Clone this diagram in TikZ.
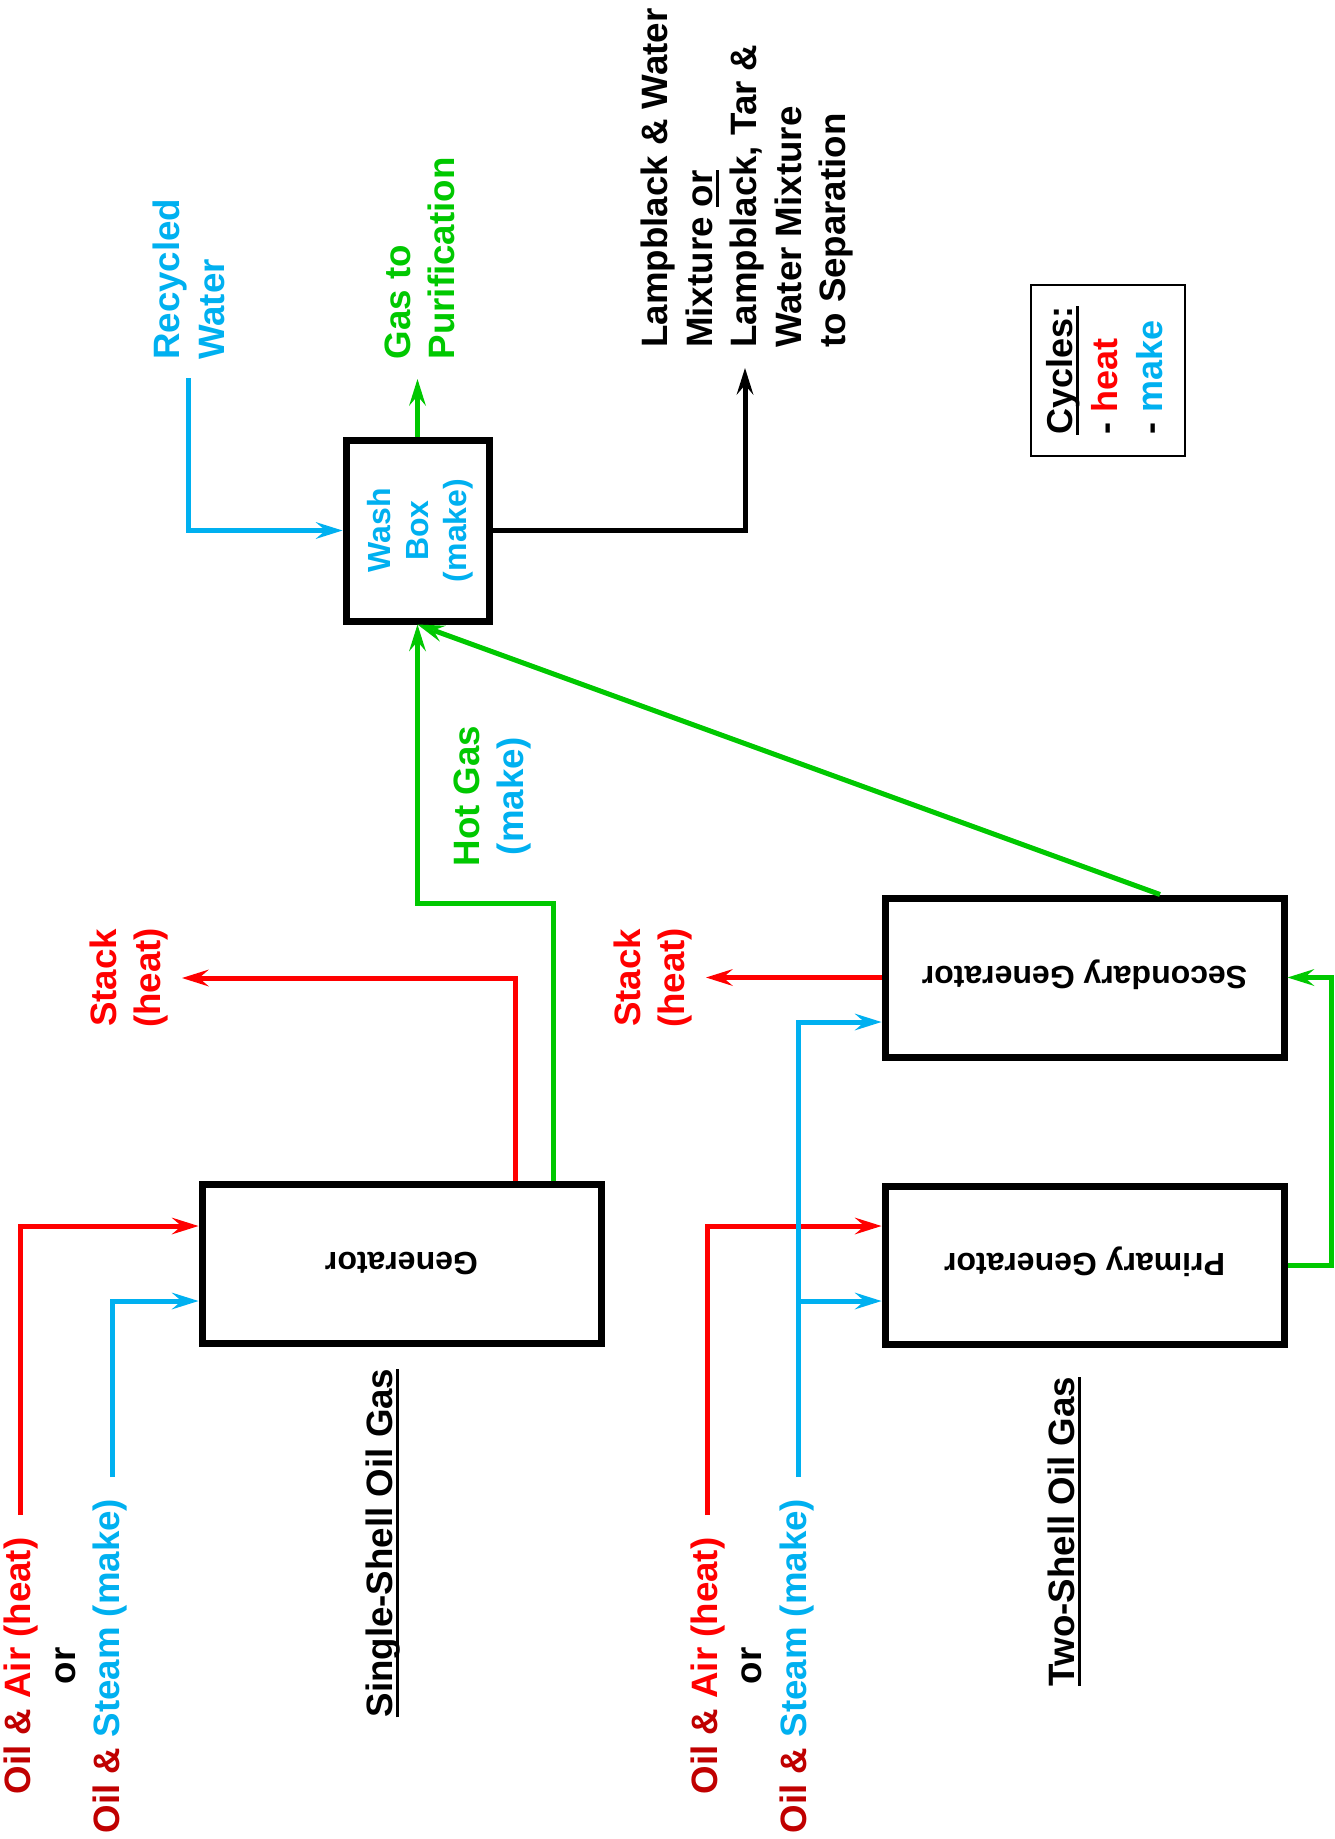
\documentclass[tikz,border=0pt]{standalone}
\usepackage{fontspec}
\setmainfont{Liberation Sans}
\usepackage{graphicx}
\usetikzlibrary{arrows.meta}
\definecolor{cred}{HTML}{FF0000}
\definecolor{cdred}{HTML}{C00000}
\definecolor{cblue}{HTML}{00B0F0}
\definecolor{cgreen}{HTML}{00C800}
\newcommand\lbfont{\fontsize{36.7pt}{44.5pt}\selectfont\bfseries}
\newcommand\bxfont{\fontsize{32pt}{38pt}\selectfont\bfseries}
\newcommand\cyfont{\fontsize{36pt}{45pt}\selectfont\bfseries}
\newcommand\ulin[1]{\setbox0\hbox{#1}\rlap{\rule[-6.5pt]{\wd0}{3pt}}#1}
\newcommand\flipped[1]{\rotatebox{180}{\raisebox{0pt}[23pt][0pt]{#1}}}
\tikzset{
  procbox/.style={draw, line width=7pt, rectangle, inner sep=0pt, font=\bxfont},
  lbl/.style={rotate=90, inner sep=0pt, font=\lbfont},
  conn/.style={line width=5pt, -{Stealth[length=27pt,width=17pt,inset=10pt,line width=0pt]}},
}
\begin{document}
\begin{tikzpicture}[x=1pt,y=-1pt]
\fill[white] (0,0) rectangle (1335,1839);
\useasboundingbox (0,0) rectangle (1335,1839);

% process boxes
\node[procbox, minimum width=399pt, minimum height=159pt] (gen) at (401.5,1263.5) {\flipped{Generator}};
\node[procbox, minimum width=399pt, minimum height=158pt] (pri) at (1084.5,1265) {\flipped{Primary Generator}};
\node[procbox, minimum width=399pt, minimum height=159pt] (sec) at (1084.5,977.5) {\flipped{Secondary Generator}};
\node[procbox, minimum width=143pt, minimum height=181pt, text=cblue] (wash) at (417.5,530.5)
  {\rotatebox{90}{\raisebox{-3.5pt}[\height][\depth]{\begin{tabular}{@{}c@{}}Wash\\Box\\(make)\end{tabular}}}};

% labels
\node[lbl, anchor=west, text=cblue] (rwl) at (192.9,360) {\begin{tabular}{@{}l@{}}Recycled\\Water\end{tabular}};
\node[lbl, anchor=west, text=cgreen] (gpl) at (423.4,359.5) {\begin{tabular}{@{}l@{}}Gas to\\Purification\end{tabular}};
\node[lbl, anchor=west] (lbt) at (747.6,348) {\begin{tabular}{@{}l@{}}Lampblack \& Water\\Mixture \ulin{or}\\Lampblack, Tar \&\\Water Mixture\\to Separation\end{tabular}};
\node[lbl] (hgl) at (492.4,796) {\begin{tabular}{@{}c@{}}\textcolor{cgreen}{Hot Gas}\\\textcolor{cblue}{(make)}\end{tabular}};
\node[lbl, text=cred] (stk1) at (129.4,978) {\begin{tabular}{@{}c@{}}Stack\\(heat)\end{tabular}};
\node[lbl, text=cred] (stk2) at (653.4,978) {\begin{tabular}{@{}c@{}}Stack\\(heat)\end{tabular}};
\node[lbl] (in1) at (66.1,1666) {\begin{tabular}{@{}c@{}}\textcolor{cdred}{Oil \&} \textcolor{cred}{Air (heat)}\\or\\\textcolor{cdred}{Oil \&} \textcolor{cblue}{Steam (make)}\end{tabular}};
\node[lbl] (in2) at (752.9,1666) {\begin{tabular}{@{}c@{}}\textcolor{cdred}{Oil \&} \textcolor{cred}{Air (heat)}\\or\\\textcolor{cdred}{Oil \&} \textcolor{cblue}{Steam (make)}\end{tabular}};
\node[lbl] (ssl) at (383.6,1543) {\begin{tabular}{@{}c@{}}\ulin{Single-Shell Oil Gas}\end{tabular}};
\node[lbl] (tsl) at (1065.7,1531.5) {\begin{tabular}{@{}c@{}}\ulin{Two-Shell Oil Gas}\end{tabular}};
\node[draw, line width=1.8pt, rotate=90, inner sep=0pt, minimum width=171pt, minimum height=154pt, font=\cyfont] (cyc) at (1108,370.5)
  {\begin{tabular}{@{}l@{}}\ulin{Cycles:}\\- \textcolor{cred}{heat}\\- \textcolor{cblue}{make}\end{tabular}};

% free ends
\coordinate (rsrc1) at (20,1515);
\coordinate (bsrc1) at (112,1477);
\coordinate (rsrc2) at (707,1515);
\coordinate (bsrc2) at (798,1477);
\coordinate (stack1) at (182,978);
\coordinate (stack2) at (706,977.5);
\coordinate (rwsrc) at (188,378);
\coordinate (gpout) at (417.5,379);
\coordinate (lbout) at (745,368);

% single-shell
\draw[conn, cred] (rsrc1) |- (gen.west |- 0,1226);
\draw[conn, cblue] (bsrc1) |- (gen.west |- 0,1301);
\draw[conn, cred] (gen.north -| 515,0) |- (stack1);
\draw[conn, cgreen] (gen.north -| 553,0) |- (wash.south |- 0,903) -- (wash.south);

% wash box
\draw[conn, cblue] (rwsrc) |- (wash.west);
\draw[conn, cgreen] (wash.north) -- (gpout);
\draw[conn, black] (wash.east) -| (lbout);

% two-shell
\draw[conn, cred] (rsrc2) |- (pri.west |- 0,1226);
\draw[conn, cblue] (bsrc2) |- (sec.west |- 0,1022);
\draw[conn, cblue] (bsrc2 |- 0,1301) -- (pri.west |- 0,1301);
\draw[conn, cred] (sec.west) -- (stack2);
\draw[conn, cgreen] (pri.east) -- ++(44,0) |- (sec.east);
\draw[conn, cgreen] (sec.north -| 1160,0) -- (wash.south);
\end{tikzpicture}
\end{document}
